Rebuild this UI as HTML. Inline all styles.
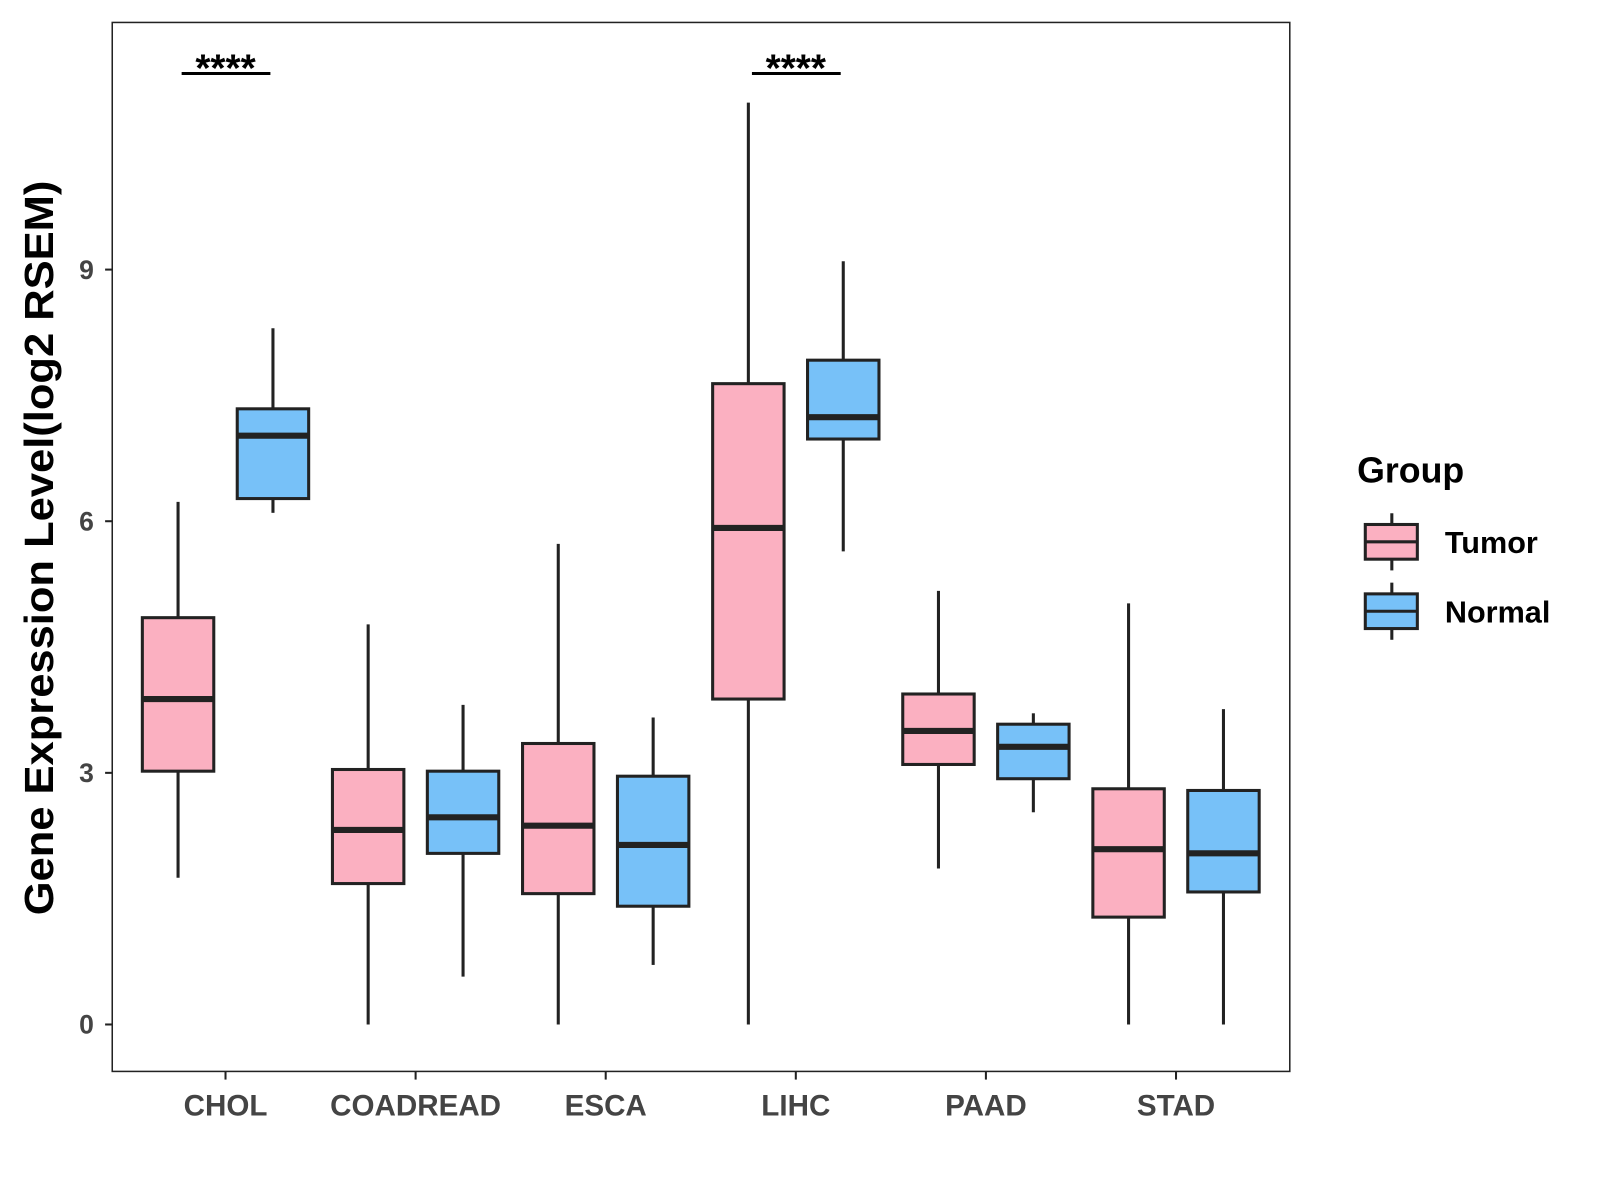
<!DOCTYPE html>
<html><head><meta charset="utf-8">
<style>
html,body{margin:0;padding:0;background:#fff;}
svg{display:block;font-family:"Liberation Sans",Arial,sans-serif;}
</style></head>
<body>
<svg id="chart" width="1600" height="1200" viewBox="0 0 1600 1200" xmlns="http://www.w3.org/2000/svg">
<rect x="0" y="0" width="1600" height="1200" fill="#fff"/>
<g transform="scale(1.0204)">
<g id="plot"></g>
<text transform="translate(52,537) rotate(-90)" text-anchor="middle" font-size="40" font-weight="bold" fill="#000" textLength="720" lengthAdjust="spacingAndGlyphs">Gene Expression Level(log2 RSEM)</text>
<g>
<text x="1330" y="473" font-size="35" font-weight="bold" fill="#000">Group</text>
<g>
<line x1="1364" y1="503" x2="1364" y2="559" stroke="#222" stroke-width="3"/>
<rect x="1338" y="514" width="51" height="34" fill="#FBB0C1" stroke="#222" stroke-width="3"/>
<line x1="1338" y1="531" x2="1389" y2="531" stroke="#222" stroke-width="3"/>
<text x="1416" y="542" font-size="30" font-weight="bold" fill="#000">Tumor</text>
</g>
<g>
<line x1="1364" y1="571" x2="1364" y2="627" stroke="#222" stroke-width="3"/>
<rect x="1338" y="582" width="51" height="34" fill="#77C1F8" stroke="#222" stroke-width="3"/>
<line x1="1338" y1="599" x2="1389" y2="599" stroke="#222" stroke-width="3"/>
<text x="1416" y="610" font-size="30" font-weight="bold" fill="#000">Normal</text>
</g>
</g>
</g>
</svg>
<script>
const categories = ["CHOL","COADREAD","ESCA","LIHC","PAAD","STAD"];
const tumorLow = [1.75,0,0,0,1.86,0];
const tumorQ1 = [3.02,1.68,1.56,3.88,3.10,1.28];
const tumorMed = [3.88,2.32,2.37,5.92,3.50,2.09];
const tumorQ3 = [4.85,3.04,3.35,7.64,3.94,2.81];
const tumorHigh = [6.23,4.77,5.73,10.99,5.17,5.02];
const normalLow = [6.10,0.57,0.71,5.64,2.53,0];
const normalQ1 = [6.27,2.04,1.41,6.98,2.93,1.58];
const normalMed = [7.02,2.47,2.14,7.24,3.31,2.04];
const normalQ3 = [7.34,3.02,2.96,7.92,3.58,2.79];
const normalHigh = [8.30,3.81,3.66,9.10,3.71,3.76];
const yTicks = [0,3,6,9];
const sigCategories = ["CHOL","LIHC"];
const sigLabels = ["****","****"];

const NS="http://www.w3.org/2000/svg";
const P={l:110,r:1264,t:22,b:1050};
function y(v){return 1004-(v)*82.2;}
function x(i){return 221+i*186.3;}
const g=document.getElementById('plot');
function mk(tag,attrs,parent){const e=document.createElementNS(NS,tag);for(const k in attrs)e.setAttribute(k,attrs[k]);(parent||g).appendChild(e);return e;}

const frame=mk('rect',{x:P.l,y:P.t,width:P.r-P.l,height:P.b-P.t,fill:'none',stroke:'#222','stroke-width':1.5});



yTicks.forEach(t=>{
  const tk=mk('line',{x1:P.l-7,x2:P.l,y1:y(t),y2:y(t),stroke:'#222','stroke-width':2});
  
  
  const tl=mk('text',{x:P.l-18,y:y(t)+9,'text-anchor':'end','font-size':26,'font-weight':'bold',fill:'#444'});
  tl.textContent=t;
  
  
});
categories.forEach((c,i)=>{
  const tk=mk('line',{x1:x(i),x2:x(i),y1:P.b,y2:P.b+8,stroke:'#222','stroke-width':2});
  
  
  const tl=mk('text',{x:x(i),y:1093,'text-anchor':'middle','font-size':29,'font-weight':'bold',fill:'#444'});
  tl.textContent=c;
  
  
});
function box(cx,lo,q1,md,q3,hi,fill,name){
  const bg=mk('g',{});
  
  
  const w=70;
  mk('line',{x1:cx,x2:cx,y1:y(hi),y2:y(q3),stroke:'#222','stroke-width':3},bg);
  mk('line',{x1:cx,x2:cx,y1:y(q1),y2:y(lo),stroke:'#222','stroke-width':3},bg);
  mk('rect',{x:cx-w/2,y:y(q3),width:w,height:y(q1)-y(q3),fill:fill,stroke:'#222','stroke-width':3},bg);
  mk('line',{x1:cx-w/2,x2:cx+w/2,y1:y(md),y2:y(md),stroke:'#222','stroke-width':6},bg);
}
categories.forEach((c,i)=>{
  box(x(i)-46.5,tumorLow[i],tumorQ1[i],tumorMed[i],tumorQ3[i],tumorHigh[i],'#FBB0C1','box-tumor-'+c.toLowerCase());
  box(x(i)+46.5,normalLow[i],normalQ1[i],normalMed[i],normalQ3[i],normalHigh[i],'#77C1F8','box-normal-'+c.toLowerCase());
});
sigCategories.forEach((c,k)=>{
  const i=categories.indexOf(c);
  const ln=mk('line',{x1:x(i)-43,x2:x(i)+44,y1:72,y2:72,stroke:'#000','stroke-width':3});
  
  
  const t=mk('text',{x:x(i),y:80,'text-anchor':'middle','font-size':38,'font-weight':'bold',fill:'#000'});
  t.textContent=sigLabels[k];
  
  
});
</script>
</body></html>
